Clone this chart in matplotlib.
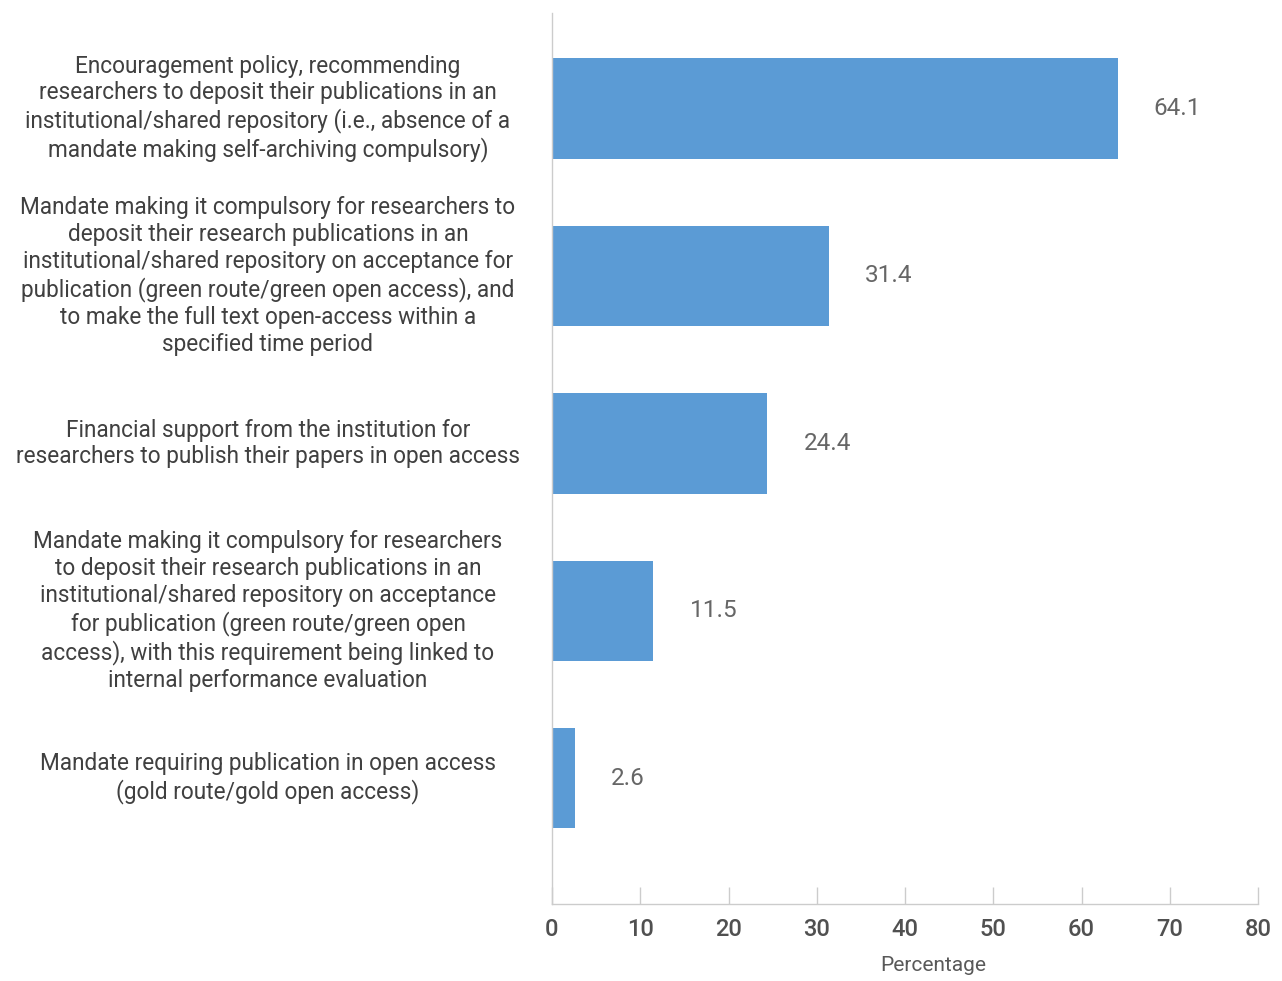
import matplotlib
matplotlib.use("Agg")
import matplotlib.pyplot as plt
import matplotlib.transforms as mtransforms

plt.rcParams['font.family'] = ['Roboto', 'DejaVu Sans']

categories = [
    "Encouragement policy, recommending\nresearchers to deposit their publications in an\ninstitutional/shared repository (i.e., absence of a\nmandate making self-archiving compulsory)",
    "Mandate making it compulsory for researchers to\ndeposit their research publications in an\ninstitutional/shared repository on acceptance for\npublication (green route/green open access), and\nto make the full text open-access within a\nspecified time period",
    "Financial support from the institution for\nresearchers to publish their papers in open access",
    "Mandate making it compulsory for researchers\nto deposit their research publications in an\ninstitutional/shared repository on acceptance\nfor publication (green route/green open\naccess), with this requirement being linked to\ninternal performance evaluation",
    "Mandate requiring publication in open access\n(gold route/gold open access)",
]
values = [64.1, 31.4, 24.4, 11.5, 2.6]
xticks = [0, 10, 20, 30, 40, 50, 60, 70, 80]
xlabel = "Percentage"

fig = plt.figure(figsize=(12.82, 9.81), dpi=100)
ax = fig.add_axes([552/1282, 1-904/981, (1258-552)/1282, (904-13)/981])

pos = list(range(len(values)))
ax.barh(pos, values, height=0.598, color='#5B9BD5')
ax.set_ylim(4.75, -0.57)
ax.set_xlim(0, 80)

for p, v in zip(pos, values):
    ax.annotate(f"{v}", xy=(v, p), xytext=(26, 0), textcoords='offset points',
                ha='left', va='center', fontsize=17.5, color='#666666')

trans = mtransforms.blended_transform_factory(fig.transFigure, ax.transData)
for p, c in zip(pos, categories):
    ax.text(268/1282, p, c, transform=trans, ha='center', va='center',
            fontsize=16.3, color='#404040', linespacing=1.21)

ax.set_yticks([])
ax.set_xticks(xticks)
ax.set_xticklabels([str(t) for t in xticks], fontsize=17, color='#505050', fontweight='medium')
ax.tick_params(axis='x', direction='in', length=12.5, width=1, color='#cccccc', pad=10)
for s in ['top', 'right']:
    ax.spines[s].set_visible(False)
for s in ['left', 'bottom']:
    ax.spines[s].set_color('#cccccc')
    ax.spines[s].set_linewidth(1)
ax.set_xlabel(xlabel, fontsize=15, color='#595959', labelpad=12)
ax.xaxis.set_label_coords((933-552)/706, -0.058)

fig.savefig("out.png", dpi=100)
